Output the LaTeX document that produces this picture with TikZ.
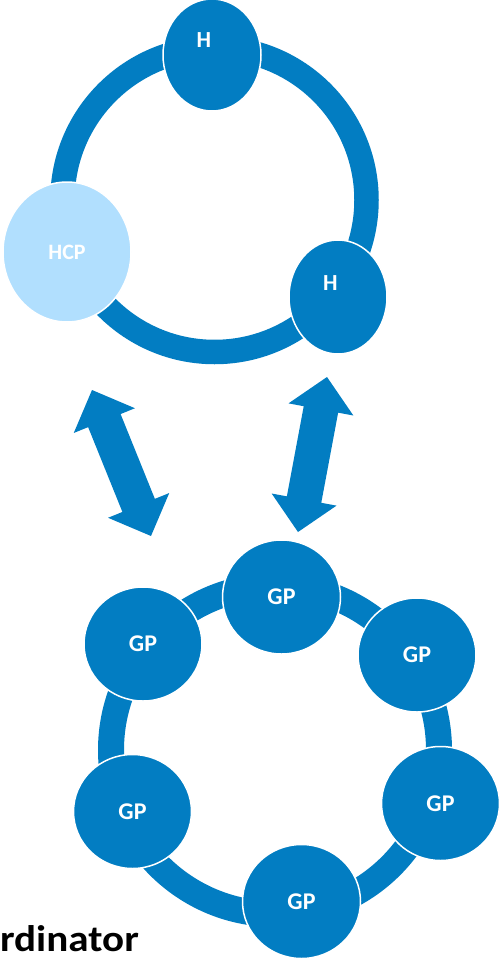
\documentclass[tikz,border=0pt]{standalone}
\usepackage{fontspec}
\setsansfont{Carlito}
\usetikzlibrary{shapes.geometric,calc}
\definecolor{ringblue}{RGB}{2,125,194}
\definecolor{hcpblue}{RGB}{177,223,254}
\tikzset{
  ringstyle/.style={circle, draw=ringblue, line width=#1, inner sep=0pt, fill=none},
  hostnode/.style={ellipse, fill=ringblue, draw=white, line width=1.5pt, inner sep=0pt},
  hcpnode/.style={ellipse, fill=hcpblue, draw=white, line width=1.5pt, inner sep=0pt,
    text=white, font=\sffamily\bfseries\fontsize{22}{22}\selectfont},
  gpnode/.style={ellipse, fill=ringblue, draw=white, line width=1.5pt, inner sep=0pt,
    minimum width=118pt, minimum height=114pt,
    text=white, font=\sffamily\bfseries\fontsize{24}{24}\selectfont},
  hlabel/.style={text=white, inner sep=0pt, font=\sffamily\bfseries\fontsize{23}{23}\selectfont},
  arrowfill/.style={fill=ringblue},
  coordtext/.style={inner sep=0pt, text=black, font=\sffamily\bfseries\fontsize{37}{37}\selectfont}
}
\newcommand\dblblockarrow[2]{%
  \path ($(#1)!33pt!(#2)$) coordinate (ha) ($(#2)!33pt!(#1)$) coordinate (hb);
  \fill[arrowfill] (#1) -- ($(ha)!33pt!90:(#2)$) -- ($(ha)!17.5pt!90:(#2)$)
    -- ($(hb)!17.5pt!-90:(#1)$) -- ($(hb)!33pt!-90:(#1)$) -- (#2)
    -- ($(hb)!33pt!90:(#1)$) -- ($(hb)!17.5pt!90:(#1)$)
    -- ($(ha)!17.5pt!-90:(#2)$) -- ($(ha)!33pt!-90:(#2)$) -- cycle;}
\begin{document}
\begin{tikzpicture}[x=1pt,y=-1pt]
\useasboundingbox (0,0) rectangle (500,958);
% top ring
\node[ringstyle=24.5pt, minimum size=304pt] (topring) at (214.5,200) {};
\node[hostnode, minimum width=98pt, minimum height=112pt] (h1) at (212,55) {};
\node[hlabel] (h1t) at (204,40) {H};
\node[hostnode, minimum width=98pt, minimum height=114pt] (h2) at (338,297) {};
\node[hlabel] (h2t) at (330.5,283) {H};
\node[hcpnode, minimum width=128pt, minimum height=140pt] (hcp) at (67,252) {HCP};
% arrows
\coordinate (la1) at (92,390);
\coordinate (la2) at (151,536);
\coordinate (ra1) at (327,377);
\coordinate (ra2) at (298,532);
\dblblockarrow{la1}{la2}
\dblblockarrow{ra1}{ra2}
% bottom ring
\node[ringstyle=26pt, minimum size=328pt] (botring) at (275,750) {};
\node[gpnode] (gp1) at (281.5,597) {GP};
\node[gpnode] (gp2) at (143,644) {GP};
\node[gpnode] (gp3) at (417,655) {GP};
\node[gpnode] (gp4) at (440.5,803.5) {GP};
\node[gpnode] (gp5) at (301.5,901.5) {GP};
\node[gpnode] (gp6) at (132.5,811.5) {GP};
% clipped label
\node[coordtext, anchor=base east, xscale=1.11] (coord) at (139,951) {rdinator};
\end{tikzpicture}
\end{document}
